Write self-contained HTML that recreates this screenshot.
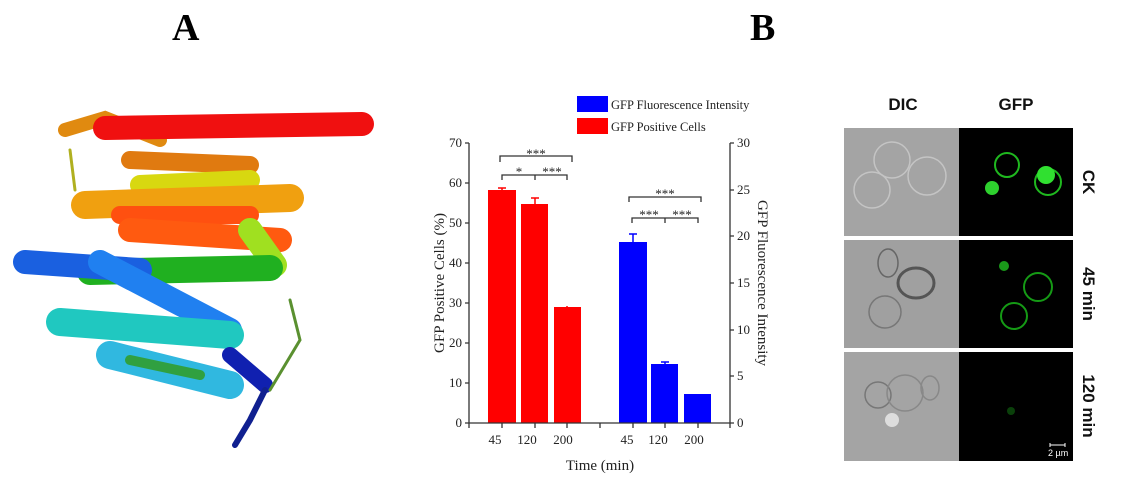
<!DOCTYPE html>
<html><head><meta charset="utf-8"><style>
body{margin:0;background:#fff;width:1121px;height:484px;overflow:hidden;position:relative;font-family:"Liberation Serif",serif}
.t{position:absolute;font-weight:bold;font-size:38px}
</style></head><body>
<div class="t" style="left:172px;top:6px">A</div>
<div class="t" style="left:750px;top:6px">B</div>
<svg width="1121" height="484" style="position:absolute;left:0;top:0">
<g stroke-linecap="round" fill="none">
<path d="M65,130 L105,118 L160,140" stroke="#e08a10" stroke-width="14"/>
<path d="M105,128 L362,124" stroke="#f01010" stroke-width="24"/>
<path d="M130,160 L250,165" stroke="#e07a10" stroke-width="18"/>
<path d="M140,185 L250,180" stroke="#d8d810" stroke-width="20"/>
<path d="M85,205 L290,198" stroke="#f0a010" stroke-width="28"/>
<path d="M120,215 L250,215" stroke="#ff5010" stroke-width="18"/>
<path d="M130,230 L280,240" stroke="#ff5a10" stroke-width="24"/>
<path d="M250,230 L275,265" stroke="#a0e020" stroke-width="24"/>
<path d="M90,272 L270,268" stroke="#20b020" stroke-width="26"/>
<path d="M25,262 L140,270" stroke="#1a60e0" stroke-width="24"/>
<path d="M100,262 L230,330" stroke="#2080f0" stroke-width="24"/>
<path d="M60,322 L230,335" stroke="#20c8c0" stroke-width="28"/>
<path d="M110,355 L230,385" stroke="#30b8e0" stroke-width="28"/>
<path d="M130,360 L200,375" stroke="#30a040" stroke-width="10"/>
<path d="M230,355 L265,385" stroke="#1020b0" stroke-width="16"/>
<path d="M265,390 L250,420 L235,445" stroke="#102090" stroke-width="6"/>
<path d="M270,390 L300,340 L290,300" stroke="#5a9030" stroke-width="3"/>
<path d="M75,190 L70,150" stroke="#b0b020" stroke-width="3"/>
</g>
<g font-family="Liberation Serif,serif" font-size="13" fill="#222">
<rect x="488" y="190" width="28" height="233" fill="#ff0000"/>
<rect x="521" y="204" width="27" height="219" fill="#ff0000"/>
<rect x="554" y="307" width="27" height="116" fill="#ff0000"/>
<rect x="619" y="242" width="28" height="181" fill="#0000ff"/>
<rect x="651" y="364" width="27" height="59" fill="#0000ff"/>
<rect x="684" y="394" width="27" height="29" fill="#0000ff"/>
<g stroke="#ff0000" stroke-width="1.5"><path d="M502,190V188M498,188h8M535,204V198M531,198h8M567,307V306"/></g>
<g stroke="#0000ff" stroke-width="1.5"><path d="M633,242V234M629,234h8M665,364V362M661,362h8"/></g>
<g stroke="#333" stroke-width="1.3" fill="none">
<path d="M469,143V423H730V143"/>
<path d="M465,143h4M465,183h4M465,223h4M465,263h4M465,303h4M465,343h4M465,383h4M465,423h4"/>
<path d="M730,143h4M730,190h4M730,236h4M730,283h4M730,330h4M730,376h4M730,423h4"/>
<path d="M469,423v5M502,423v5M535,423v5M567,423v5M600,423v5M633,423v5M665,423v5M698,423v5M730,423v5"/>
<path d="M500,162v-6h72v6M502,180v-5h65v5M535,175v5"/>
<path d="M629,202v-5h72v5M632,223v-5h66v5M665,218v5"/>
</g>
<g text-anchor="end"><text x="462" y="147">70</text><text x="462" y="187">60</text><text x="462" y="227">50</text><text x="462" y="267">40</text><text x="462" y="307">30</text><text x="462" y="347">20</text><text x="462" y="387">10</text><text x="462" y="427">0</text></g>
<g><text x="737" y="147">30</text><text x="737" y="194">25</text><text x="737" y="240">20</text><text x="737" y="287">15</text><text x="737" y="334">10</text><text x="737" y="380">5</text><text x="737" y="427">0</text></g>
<g text-anchor="middle"><text x="495" y="444">45</text><text x="527" y="444">120</text><text x="563" y="444">200</text><text x="627" y="444">45</text><text x="658" y="444">120</text><text x="694" y="444">200</text>
<text x="536" y="158" font-size="13">***</text><text x="519" y="176" font-size="13">*</text><text x="552" y="176" font-size="13">***</text>
<text x="665" y="198" font-size="13">***</text><text x="649" y="219" font-size="13">***</text><text x="682" y="219" font-size="13">***</text>
<text x="600" y="470" font-size="15">Time (min)</text></g>
<text transform="translate(444,283) rotate(-90)" text-anchor="middle" font-size="15">GFP Positive Cells (%)</text>
<text transform="translate(758,283) rotate(90)" text-anchor="middle" font-size="15">GFP Fluorescence Intensity</text>
<rect x="577" y="96" width="31" height="16" fill="#0000ff"/><rect x="577" y="118" width="31" height="16" fill="#ff0000"/>
<text x="611" y="109" font-size="12.5">GFP Fluorescence Intensity</text><text x="611" y="131" font-size="12.5">GFP Positive Cells</text>
</g>
<g font-family="Liberation Sans,sans-serif" font-weight="bold" font-size="17" fill="#111">
<text x="903" y="110" text-anchor="middle">DIC</text><text x="1016" y="110" text-anchor="middle">GFP</text>
<text transform="translate(1083,182) rotate(90)" text-anchor="middle">CK</text>
<text transform="translate(1083,294) rotate(90)" text-anchor="middle">45 min</text>
<text transform="translate(1083,406) rotate(90)" text-anchor="middle">120 min</text>
</g>
<rect x="844" y="128" width="115" height="108" fill="#a4a4a4"/>
<rect x="844" y="240" width="115" height="108" fill="#a0a0a0"/>
<rect x="844" y="352" width="115" height="109" fill="#a4a4a4"/>
<rect x="959" y="128" width="114" height="108" fill="#000"/>
<rect x="959" y="240" width="114" height="108" fill="#000"/>
<rect x="959" y="352" width="114" height="109" fill="#000"/>
<g fill="none" stroke="#c4c4c4" stroke-width="1.5">
<circle cx="892" cy="160" r="18"/><circle cx="872" cy="190" r="18"/><circle cx="927" cy="176" r="19"/>
<ellipse cx="888" cy="263" rx="10" ry="14" stroke="#666"/><ellipse cx="916" cy="283" rx="18" ry="15" stroke="#555" stroke-width="3"/><circle cx="885" cy="312" r="16" stroke="#777"/>
<circle cx="878" cy="395" r="13" stroke="#777"/><circle cx="905" cy="393" r="18" stroke="#888"/><ellipse cx="930" cy="388" rx="9" ry="12" stroke="#888"/>
</g>
<circle cx="892" cy="420" r="7" fill="#ddd"/>
<g fill="none" stroke="#1fb81f" stroke-width="2">
<circle cx="1007" cy="165" r="12"/><circle cx="1048" cy="182" r="13"/>
<circle cx="1038" cy="287" r="14" stroke="#159a15"/><circle cx="1014" cy="316" r="13" stroke="#159a15"/>
</g>
<circle cx="1046" cy="175" r="9" fill="#30e030"/><circle cx="992" cy="188" r="7" fill="#2ed02e"/>
<circle cx="1004" cy="266" r="5" fill="#1a9a1a"/><circle cx="1011" cy="411" r="4" fill="#0a400a"/>
<path d="M1050,445h15M1050,443v4M1065,443v4" stroke="#fff" stroke-width="1"/>
<text x="1048" y="456" fill="#fff" font-size="9" font-family="Liberation Sans,sans-serif">2 µm</text>
</svg>
</body></html>
